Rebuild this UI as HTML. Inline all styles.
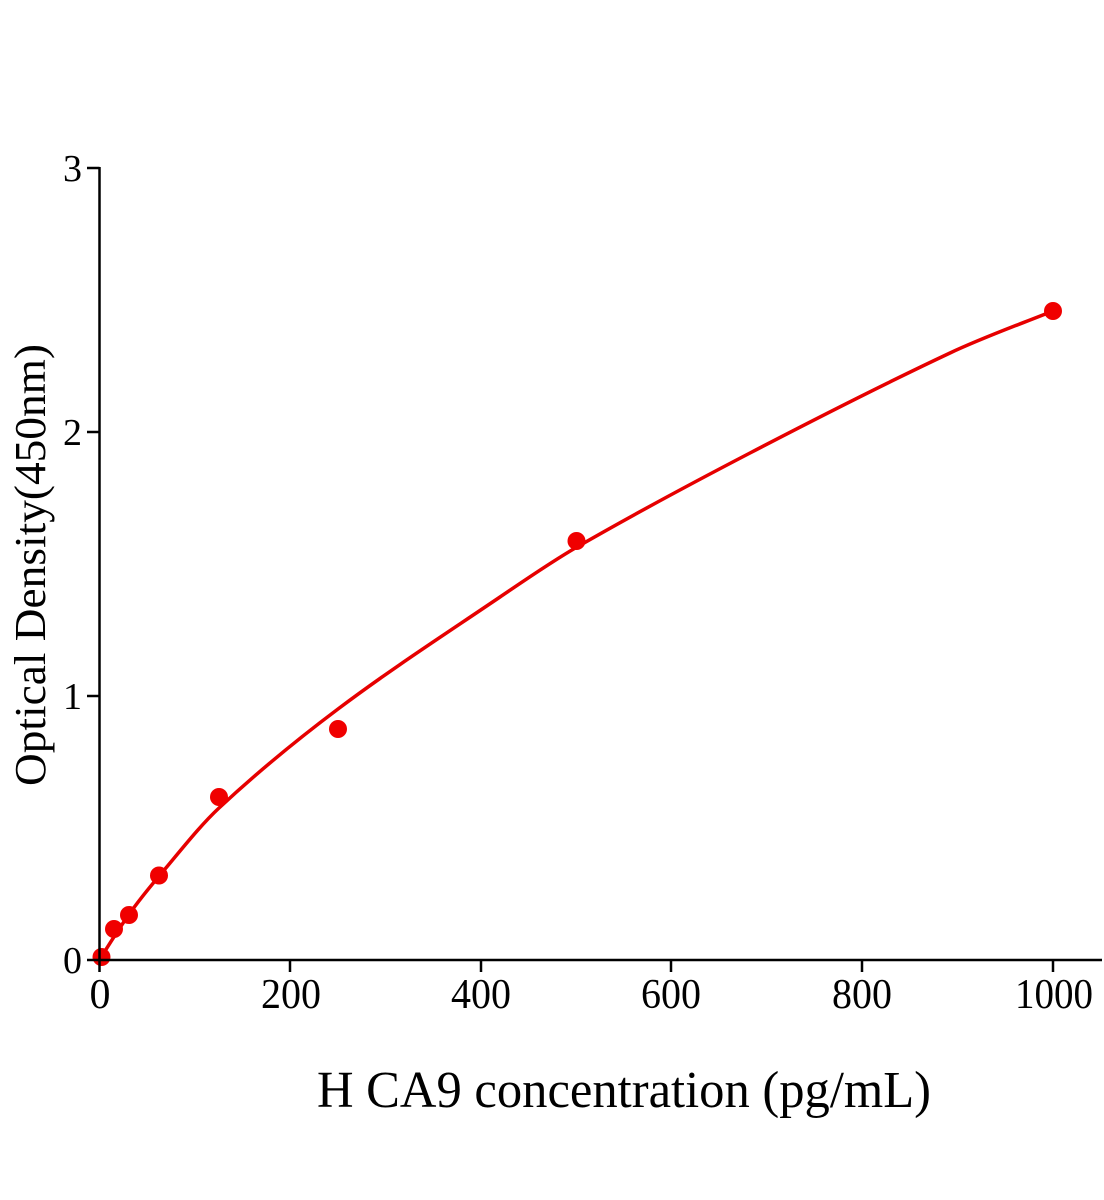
<!DOCTYPE html>
<html>
<head>
<meta charset="utf-8">
<style>
  html, body { margin: 0; padding: 0; background: #ffffff; }
  svg { display: block; }
  text { font-family: "Liberation Serif", "Times New Roman", serif; fill: #000; }
</style>
</head>
<body>
<svg width="1104" height="1200" viewBox="0 0 1104 1200" xmlns="http://www.w3.org/2000/svg">
  <rect x="0" y="0" width="1104" height="1200" fill="#ffffff"/>

  <!-- fitted curve -->
  <path d="M100,959
           C110,943 120,927 130,913
           C140,899 150,886.8 160,875
           C179.7,851.8 199.3,826.4 219,808
           C258.7,771 298.3,738.8 338,709
           C392,668.4 446,633.6 500,597
           C525.7,579.6 551.3,561.8 577,547
           C634.7,513.8 692.3,483 750,453
           C816.7,418.3 883.3,384.3 950,353
           C984.3,336.9 1018.7,324.7 1053,311"
        fill="none" stroke="#e60000" stroke-width="3.5" stroke-linecap="round"/>

  <!-- data points -->
  <g fill="#f00000">
    <circle cx="101.5" cy="957" r="9"/>
    <circle cx="114" cy="929" r="9"/>
    <circle cx="129" cy="915" r="9"/>
    <circle cx="159" cy="875.5" r="9"/>
    <circle cx="219" cy="797" r="9"/>
    <circle cx="338" cy="729" r="9"/>
    <circle cx="576.5" cy="541" r="9"/>
    <circle cx="1053" cy="311" r="9"/>
  </g>

  <!-- axes -->
  <g stroke="#000" stroke-width="2.5" fill="none">
    <line x1="99.5" y1="167" x2="99.5" y2="961"/>
    <line x1="98" y1="960" x2="1102" y2="960"/>
    <!-- y ticks -->
    <line x1="87" y1="168" x2="99.5" y2="168"/>
    <line x1="87" y1="432" x2="99.5" y2="432"/>
    <line x1="87" y1="696" x2="99.5" y2="696"/>
    <line x1="87" y1="960" x2="99.5" y2="960"/>
    <!-- x ticks -->
    <line x1="99.5" y1="960" x2="99.5" y2="972"/>
    <line x1="290" y1="960" x2="290" y2="972"/>
    <line x1="481" y1="960" x2="481" y2="972"/>
    <line x1="671" y1="960" x2="671" y2="972"/>
    <line x1="862" y1="960" x2="862" y2="972"/>
    <line x1="1053" y1="960" x2="1053" y2="972"/>
  </g>

  <!-- y tick labels -->
  <g font-size="38" text-anchor="end">
    <text x="82" y="181">3</text>
    <text x="82" y="445">2</text>
    <text x="82" y="709">1</text>
    <text x="82" y="973">0</text>
  </g>

  <!-- x tick labels -->
  <g font-size="42" text-anchor="middle">
    <text x="100" y="1008">0</text>
    <text x="291" y="1008" textLength="60" lengthAdjust="spacingAndGlyphs">200</text>
    <text x="481" y="1008" textLength="60" lengthAdjust="spacingAndGlyphs">400</text>
    <text x="671" y="1008" textLength="60" lengthAdjust="spacingAndGlyphs">600</text>
    <text x="862" y="1008" textLength="60" lengthAdjust="spacingAndGlyphs">800</text>
    <text x="1054" y="1008" textLength="78" lengthAdjust="spacingAndGlyphs">1000</text>
  </g>

  <!-- axis titles -->
  <text x="624" y="1107" font-size="52" text-anchor="middle" textLength="614" lengthAdjust="spacingAndGlyphs">H CA9 concentration (pg/mL)</text>
  <text transform="translate(45,565) rotate(-90)" font-size="44" text-anchor="middle" textLength="442" lengthAdjust="spacingAndGlyphs">Optical Density(450nm)</text>
</svg>
</body>
</html>
